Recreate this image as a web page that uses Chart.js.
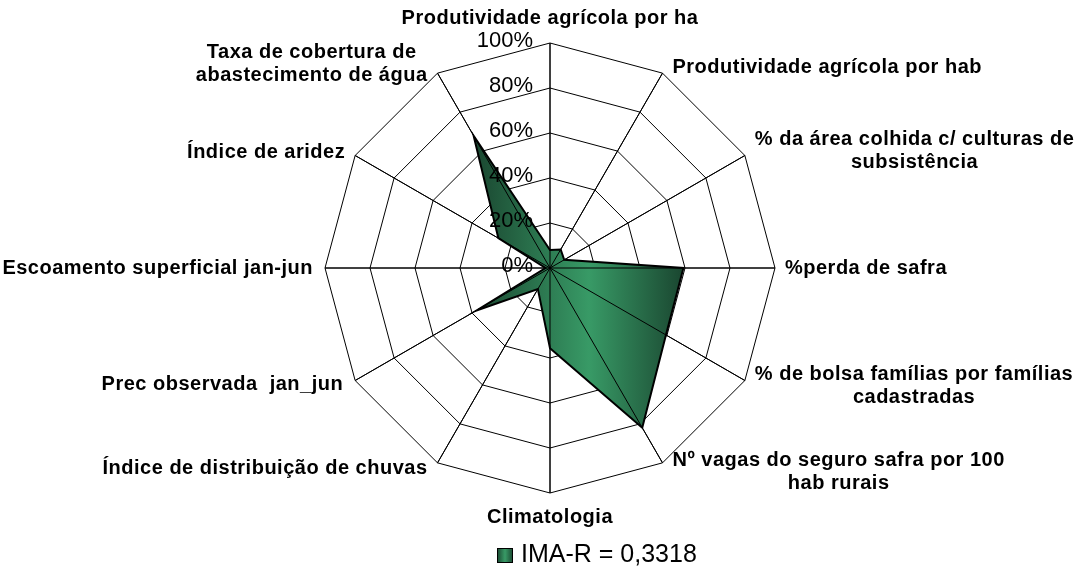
<!DOCTYPE html>
<html>
<head>
<meta charset="utf-8">
<title>IMA-R</title>
<script src="https://cdn.jsdelivr.net/npm/chart.js@4/dist/chart.umd.min.js"></script>
<style>
  body { margin: 0; background: #fff; }
  #wrap { width: 1087px; height: 568px; }
</style>
</head>
<body>
<div id="wrap"><canvas id="radar" width="1087" height="568"></canvas></div>
<script>
// indicadores do radar (sentido horário a partir do topo)
const indicadores = [
  'Produtividade agrícola por ha',
  'Produtividade agrícola por hab',
  ['% da área colhida c/ culturas de', 'subsistência'],
  '%perda de safra',
  ['% de bolsa famílias por famílias', 'cadastradas'],
  ['Nº vagas do seguro safra por 100', 'hab rurais'],
  'Climatologia',
  'Índice de distribuição de chuvas',
  'Prec observada  jan_jun',
  'Escoamento superficial jan-jun',
  'Índice de aridez',
  ['Taxa de cobertura de', 'abastecimento de água']
];

// valores em %
const valores = [8, 9.5, 7.3, 59.3, 59.5, 82, 35.7, 10.8, 37.7, 2, 26.5, 67.9];

const rotuloSerie = 'IMA-R = 0,3318';
const marcas = [0, 20, 40, 60, 80, 100];

const fonte = 'Arial, "Liberation Sans", sans-serif';

// degradê horizontal escuro-claro-escuro sobre a área preenchida
function preenchimento(context) {
  const chart = context.chart;
  const scale = chart.scales.r;
  if (!scale || scale.xCenter === undefined) return '#2f8a5a';
  let minX = scale.xCenter, maxX = scale.xCenter;
  valores.forEach((v, i) => {
    const p = scale.getPointPositionForValue(i, v);
    minX = Math.min(minX, p.x);
    maxX = Math.max(maxX, p.x);
  });
  const g = chart.ctx.createLinearGradient(minX, 0, maxX, 0);
  g.addColorStop(0, '#1a4630');
  g.addColorStop(0.55, '#389a66');
  g.addColorStop(1, '#1a4630');
  return g;
}

// raios por cima do preenchimento, rótulos e legenda
const extras = {
  id: 'extras',
  afterDatasetsDraw(chart) {
    const ctx = chart.ctx;
    const scale = chart.scales.r;
    const n = indicadores.length;

    ctx.save();
    ctx.strokeStyle = '#000';
    ctx.lineWidth = 1;
    for (let i = 0; i < n; i++) {
      const p = scale.getPointPosition(i, scale.drawingArea);
      ctx.beginPath();
      ctx.moveTo(scale.xCenter, scale.yCenter);
      ctx.lineTo(p.x, p.y);
      ctx.stroke();
    }

    // marcas da escala
    ctx.fillStyle = '#000';
    ctx.font = '22px ' + fonte;
    ctx.textAlign = 'right';
    ctx.textBaseline = 'middle';
    marcas.forEach(v => {
      const d = scale.getDistanceFromCenterForValue(v);
      ctx.fillText(v + '%', scale.xCenter - 17, scale.yCenter - d - 2);
    });

    // nomes dos indicadores
    ctx.font = 'bold 20px ' + fonte;
    ctx.letterSpacing = '0.5px';
    const alturaLinha = 23;
    for (let i = 0; i < n; i++) {
      const linhas = Array.isArray(indicadores[i]) ? indicadores[i] : [indicadores[i]];
      const ang = i * 360 / n;
      const p = scale.getPointPosition(i, scale.drawingArea);
      const largura = Math.max(...linhas.map(t => ctx.measureText(t).width));
      const dy = -Math.cos(ang * Math.PI / 180) * (4 + 3 * linhas.length);
      const afast = (ang === 270 || ang === 240) ? 12 : 10;
      let cx, cy;
      if (ang === 0) {
        cx = p.x; cy = p.y - 25;
      } else if (ang === 180) {
        cx = p.x; cy = p.y + 24;
      } else if (ang < 180) {
        cx = p.x + afast + largura / 2;
        cy = p.y + dy;
      } else {
        cx = p.x - afast - largura / 2;
        cy = p.y + dy;
      }
      ctx.textAlign = 'center';
      const topo = cy - (linhas.length - 1) * alturaLinha / 2;
      linhas.forEach((t, k) => ctx.fillText(t, cx, topo + k * alturaLinha));
    }

    // legenda
    ctx.letterSpacing = '0px';
    const lg = ctx.createLinearGradient(497, 0, 513, 0);
    lg.addColorStop(0, '#1a4630');
    lg.addColorStop(0.5, '#389a66');
    lg.addColorStop(1, '#1a4630');
    ctx.fillStyle = lg;
    ctx.fillRect(497.5, 548.5, 15, 14);
    ctx.strokeStyle = '#000';
    ctx.strokeRect(497.5, 548.5, 15, 14);
    ctx.fillStyle = '#000';
    ctx.font = '25px ' + fonte;
    ctx.textAlign = 'left';
    ctx.textBaseline = 'alphabetic';
    ctx.fillText(rotuloSerie, 521, 562);
    ctx.restore();
  }
};

new Chart(document.getElementById('radar'), {
  type: 'radar',
  data: {
    labels: indicadores,
    datasets: [{
      label: rotuloSerie,
      data: valores,
      backgroundColor: preenchimento,
      borderColor: '#000',
      borderWidth: 2,
      fill: true,
      pointRadius: 0,
      tension: 0
    }]
  },
  options: {
    responsive: false,
    animation: false,
    layout: { padding: { top: 43, bottom: 75, left: 13, right: 0 } },
    plugins: {
      legend: { display: false },
      tooltip: { enabled: false }
    },
    scales: {
      r: {
        min: 0,
        max: 100,
        ticks: { display: false, stepSize: 20 },
        grid: { color: '#000', lineWidth: 1 },
        angleLines: { color: '#000', lineWidth: 1 },
        pointLabels: { display: false }
      }
    }
  },
  plugins: [extras]
});
</script>
</body>
</html>
